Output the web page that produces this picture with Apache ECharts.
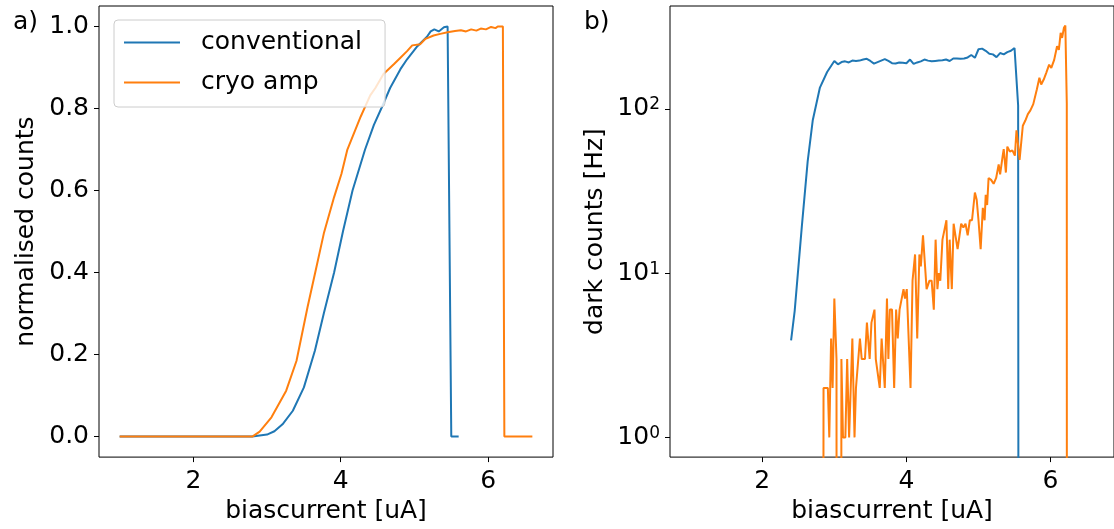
<!DOCTYPE html>
<html>
<head>
<meta charset="utf-8">
<script src="https://cdn.jsdelivr.net/npm/echarts@6/dist/echarts.min.js"></script>
<style>
  html, body { margin: 0; padding: 0; background: #fff; }
  #main { width: 1114px; height: 529px; }
</style>
</head>
<body>
<div id="main"></div>
<script>
// a) normalised counts vs bias current
var normConvX = [1.0, 2.8, 3.0, 3.1, 3.21, 3.35, 3.5, 3.65, 3.77, 3.91, 4.03, 4.16, 4.33, 4.45, 4.55, 4.67, 4.81, 4.9, 5.04, 5.17, 5.22, 5.27, 5.33, 5.4, 5.45, 5.5, 5.6];
var normConvY = [0, 0, 0.005, 0.013, 0.03, 0.063, 0.12, 0.21, 0.3, 0.4, 0.5, 0.6, 0.7, 0.76, 0.8, 0.85, 0.896, 0.92, 0.952, 0.975, 0.988, 0.993, 0.988, 0.998, 1.0, 0, 0];

var normCryoX = [1.0, 2.8, 2.9, 3.06, 3.26, 3.4, 3.55, 3.65, 3.77, 3.91, 4.01, 4.09, 4.27, 4.4, 4.47, 4.58, 4.72, 4.81, 4.9, 4.97, 5.08, 5.15, 5.26, 5.35, 5.45, 5.55, 5.63, 5.7, 5.77, 5.84, 5.9, 5.97, 6.04, 6.1, 6.13, 6.2, 6.22, 6.6];
var normCryoY = [0, 0, 0.012, 0.047, 0.112, 0.185, 0.316, 0.397, 0.495, 0.584, 0.641, 0.7, 0.78, 0.832, 0.85, 0.884, 0.908, 0.924, 0.94, 0.954, 0.957, 0.97, 0.978, 0.982, 0.986, 0.989, 0.991, 0.988, 0.993, 0.99, 0.995, 0.993, 0.999, 0.996, 1.0, 1.0, 0, 0];

// b) dark counts [Hz]
var darkConvX = [2.4, 2.45, 2.55, 2.63, 2.7, 2.8, 2.9, 3.0,
  3.05, 3.1, 3.15, 3.2, 3.25, 3.3, 3.35, 3.4, 3.45, 3.5,
  3.55, 3.6, 3.65, 3.7, 3.75, 3.8, 3.85, 3.9, 3.95, 4.0,
  4.05, 4.1, 4.15, 4.2, 4.25, 4.3, 4.35, 4.4, 4.45, 4.5,
  4.55, 4.6, 4.65, 4.7, 4.75, 4.8, 4.85, 4.9, 4.95, 5.0,
  5.05, 5.1, 5.15, 5.2, 5.25, 5.3, 5.35, 5.4, 5.45, 5.5,
  5.55, 5.6];
var darkConvY = [3.9, 5.9, 19.5, 48, 85, 135, 168, 196,
  187, 193, 195, 192, 197, 196, 197, 200, 202, 196,
  189, 193, 197, 201, 196, 190, 189, 192, 191, 190,
  200, 188, 192, 195, 200, 197, 195, 196, 197, 198,
  200, 196, 203, 203, 202, 203, 206, 213, 205, 231,
  233, 226, 217, 215, 207, 219, 215, 222, 226, 235,
  105, 0];

var darkCryoX = [2.8, 2.85, 2.91, 2.93, 2.955, 2.976, 3.0, 3.03, 3.055, 3.075, 3.098, 3.12, 3.153, 3.178, 3.205,
  3.25, 3.28, 3.3, 3.32, 3.355, 3.38, 3.425, 3.452, 3.49, 3.515, 3.557, 3.575, 3.6, 3.63, 3.656, 3.68, 3.7,
  3.73, 3.75, 3.77, 3.8, 3.83, 3.857, 3.88, 3.905, 3.93, 3.96, 3.98, 4.005, 4.03, 4.057, 4.085, 4.12, 4.15,
  4.18, 4.2, 4.23, 4.28, 4.32, 4.35, 4.38, 4.405, 4.43, 4.45, 4.47, 4.5, 4.525, 4.555, 4.58, 4.6, 4.63,
  4.655, 4.68, 4.71, 4.735, 4.76, 4.79, 4.82, 4.85, 4.88, 4.91, 4.95, 4.975, 5.0, 5.03, 5.06, 5.085, 5.1,
  5.12, 5.14, 5.175, 5.21, 5.245, 5.28, 5.3, 5.336, 5.35, 5.38, 5.4, 5.435, 5.47, 5.505, 5.527, 5.55, 5.57,
  5.615, 5.65, 5.685, 5.72, 5.76, 5.78, 5.81, 5.845, 5.87, 5.905, 5.94, 5.98, 6.01, 6.05, 6.09, 6.115, 6.14,
  6.16, 6.185, 6.205, 6.225, 6.24];
var darkCryoY = [0, 2, 2, 1, 4, 2, 7, 3, 0, 0, 3, 1, 1, 3, 1,
  4, 1, 2, 2, 4, 3, 3, 5, 3, 5, 6, 3, 3, 2, 4, 4, 2,
  7, 3, 6, 6, 2, 6, 4, 6, 6, 8, 7, 8, 8, 2, 9, 13, 4,
  13, 11, 17, 8, 9, 9, 6, 16, 8, 10, 9, 16, 16, 21, 8, 16, 8,
  20, 17, 14, 14, 20, 19, 20, 17, 21, 21, 31, 28, 21, 14, 25, 21, 30,
  26, 38, 37, 35, 38, 46, 40, 52, 57, 41, 59, 55, 56, 52, 74, 60, 49,
  79, 85, 93, 98, 107, 110, 132, 155, 141, 151, 166, 186, 178, 199, 241, 229, 291,
  271, 312, 322, 108, 0];

var xTicks = [2, 4, 6];
var normTicks = [0, 0.2, 0.4, 0.6, 0.8, 1.0];
var decadeTicks = [0, 1, 2];
var minorMantissa = [2, 3, 4, 5, 6, 7, 8, 9];

var font = 'DejaVu Sans';
var blue = '#1f77b4', orange = '#ff7f0e';

function pairs(xs, ys) {
  var out = [];
  for (var i = 0; i < Math.min(xs.length, ys.length); i++) out.push([xs[i], ys[i]]);
  return out;
}
// log axis drawn as a value axis on log10 of the counts
function logPairs(xs, ys) {
  var out = [];
  for (var i = 0; i < Math.min(xs.length, ys.length); i++) out.push([xs[i], Math.log10(Math.max(ys[i], 1e-30))]);
  return out;
}

var logMin = -0.12, logMax = 2.627;
var minorTicks = [];
[-1, 0, 1, 2].forEach(function (d) {
  minorMantissa.forEach(function (m) {
    var v = d + Math.log10(m);
    if (v > logMin && v < logMax) minorTicks.push(v);
  });
});
var sup = {0: '0', 1: '1', 2: '2'};

var chart = echarts.init(document.getElementById('main'));

var tickLine = { color: '#000', width: 1 };

var option = {
  animation: false,
  textStyle: { fontFamily: font },
  title: [
    { text: 'a)', left: 8, top: 5, textStyle: { fontFamily: font, fontSize: 25, fontWeight: 'normal', color: '#000' } },
    { text: 'b)', left: 579, top: 5, textStyle: { fontFamily: font, fontSize: 25, fontWeight: 'normal', color: '#000' } }
  ],
  legend: {
    data: ['conventional', 'cryo amp'],
    orient: 'vertical',
    left: 114,
    top: 20,
    padding: [10, 23, 12, 9],
    itemGap: 15,
    itemWidth: 56,
    itemHeight: 25,
    itemStyle: { opacity: 0 },
    lineStyle: { width: 2 },
    backgroundColor: 'rgba(255,255,255,0.8)',
    borderColor: '#cccccc',
    borderWidth: 1,
    borderRadius: 4,
    textStyle: { fontFamily: font, fontSize: 25, color: '#000', padding: [0, 0, 0, 16] }
  },
  grid: [
    { left: 99, right: 561, top: 6, bottom: 68, show: true, borderColor: '#000', borderWidth: 1 },
    { left: 670, right: -9, top: 6, bottom: 68, show: true, borderColor: '#000', borderWidth: 1 }
  ],
  xAxis: [0, 1].map(function (g) {
    return {
      type: 'value', gridIndex: g, min: 0.72, max: 6.88,
      axisLine: { show: false, onZero: false },
      splitLine: { show: false },
      axisTick: { length: 5, customValues: xTicks, lineStyle: tickLine },
      axisLabel: { customValues: xTicks, margin: 12, fontSize: 25, color: '#000', fontFamily: font },
      name: 'biascurrent [uA]', nameLocation: 'middle', nameGap: 40,
      nameTextStyle: { fontSize: 25, color: '#000', fontFamily: font }
    };
  }),
  yAxis: [
    {
      type: 'value', gridIndex: 0, min: -0.05, max: 1.05,
      axisLine: { show: false, onZero: false },
      splitLine: { show: false },
      axisTick: { length: 5, customValues: normTicks, lineStyle: tickLine },
      axisLabel: { customValues: normTicks, margin: 10, fontSize: 25, color: '#000', fontFamily: font,
        formatter: function (v) { return v.toFixed(1); } },
      name: 'normalised counts', nameLocation: 'middle', nameGap: 60,
      nameTextStyle: { fontSize: 25, color: '#000', fontFamily: font }
    },
    {
      type: 'value', gridIndex: 1, min: logMin, max: logMax,
      axisLine: { show: false, onZero: false },
      splitLine: { show: false },
      axisTick: { length: 5, customValues: decadeTicks, lineStyle: tickLine },
      axisLabel: {
        customValues: decadeTicks, margin: 10, color: '#000', fontFamily: font,
        formatter: function (v) { return '{b|10}{s|' + sup[Math.round(v)] + '}'; },
        rich: {
          b: { fontSize: 25, fontFamily: font, color: '#000' },
          s: { fontSize: 17, fontFamily: font, color: '#000', verticalAlign: 'top' }
        }
      },
      name: 'dark counts [Hz]', nameLocation: 'middle', nameGap: 62,
      nameTextStyle: { fontSize: 25, color: '#000', fontFamily: font }
    },
    {
      type: 'value', gridIndex: 1, min: logMin, max: logMax,
      axisLine: { show: false, onZero: false },
      splitLine: { show: false },
      axisTick: { length: 3, customValues: minorTicks, lineStyle: tickLine },
      axisLabel: { show: false }
    }
  ],
  series: [
    { name: 'conventional', type: 'line', xAxisIndex: 0, yAxisIndex: 0, symbol: 'none',
      lineStyle: { color: blue, width: 2 }, itemStyle: { color: blue },
      data: pairs(normConvX, normConvY) },
    { name: 'cryo amp', type: 'line', xAxisIndex: 0, yAxisIndex: 0, symbol: 'none',
      lineStyle: { color: orange, width: 2 }, itemStyle: { color: orange },
      data: pairs(normCryoX, normCryoY) },
    { name: 'conventional', type: 'line', xAxisIndex: 1, yAxisIndex: 1, symbol: 'none',
      lineStyle: { color: blue, width: 2 }, itemStyle: { color: blue },
      data: logPairs(darkConvX, darkConvY) },
    { name: 'cryo amp', type: 'line', xAxisIndex: 1, yAxisIndex: 1, symbol: 'none',
      lineStyle: { color: orange, width: 2 }, itemStyle: { color: orange },
      data: logPairs(darkCryoX, darkCryoY) }
  ]
};

chart.setOption(option);
</script>
</body>
</html>
